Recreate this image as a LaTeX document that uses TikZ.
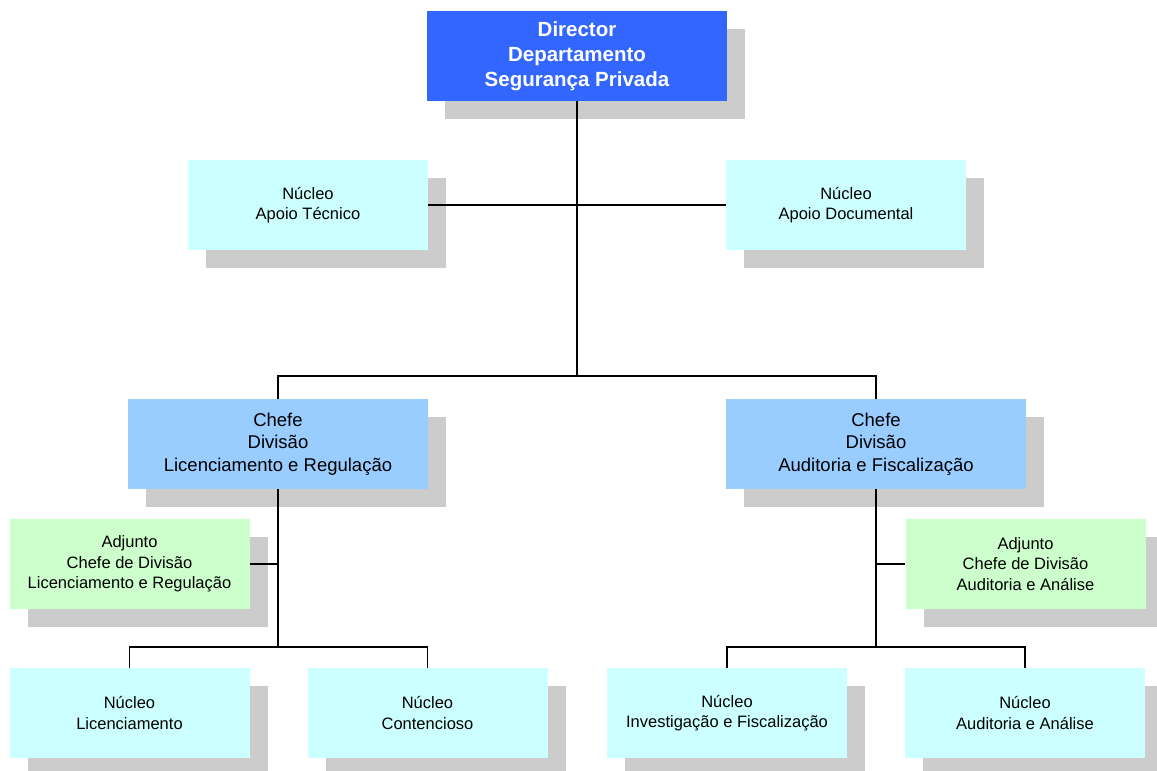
\documentclass[tikz,border=0pt]{standalone}
\usepackage{fontspec}
\setmainfont{Liberation Sans}
\usetikzlibrary{shadows}

\definecolor{dirblue}{HTML}{3366FF}
\definecolor{chefeblue}{HTML}{99CCFF}
\definecolor{nucleocyan}{HTML}{CCFFFF}
\definecolor{adjgreen}{HTML}{CCFFCC}
\definecolor{boxshadow}{HTML}{CCCCCC}

\tikzset{
  box/.style={rectangle, align=center, inner sep=2pt,
    drop shadow={shadow xshift=18pt, shadow yshift=-18pt, fill=boxshadow, opacity=1}},
  dirbox/.style={box, fill=dirblue, text=white, minimum width=300pt, minimum height=90pt,
    font=\fontsize{20.5}{25}\selectfont\bfseries},
  chefebox/.style={box, fill=chefeblue, minimum width=300pt, minimum height=90pt,
    font=\fontsize{18.5}{22.5}\selectfont},
  nucleobox/.style={box, fill=nucleocyan, minimum width=240pt, minimum height=90pt,
    font=\fontsize{16.5}{20.5}\selectfont},
  adjbox/.style={box, fill=adjgreen, minimum width=240pt, minimum height=90pt,
    font=\fontsize{16.5}{20.5}\selectfont},
  link/.style={draw=black, line width=1.3pt}
}

\begin{document}
\begin{tikzpicture}[x=1pt, y=-1pt]
  \useasboundingbox (0,0) rectangle (1157,771);

  % direccao
  \node[dirbox] (dir) at (577,56) {Director\\Departamento\\Segurança Privada};
  \node[nucleobox] (tecnico) at (308,205) {Núcleo\\Apoio Técnico};
  \node[nucleobox] (documental) at (846,205) {Núcleo\\Apoio Documental};

  % divisoes
  \node[chefebox] (chefeL) at (278,444) {Chefe\\Divisão\\Licenciamento e Regulação};
  \node[chefebox] (chefeR) at (876,444) {Chefe\\Divisão\\Auditoria e Fiscalização};
  \node[adjbox] (adjL) at (129.5,564) {Adjunto\\Chefe de Divisão\\Licenciamento e Regulação};
  \node[adjbox] (adjR) at (1025.5,564) {Adjunto\\Chefe de Divisão\\Auditoria e Análise};

  % nucleos
  \node[nucleobox] (lic) at (129.5,713) {Núcleo\\Licenciamento};
  \node[nucleobox] (cont) at (427.5,713) {Núcleo\\Contencioso};
  \node[nucleobox] (inv) at (727,713) {Núcleo\\Investigação e Fiscalização};
  \node[nucleobox] (aud) at (1025,713) {Núcleo\\Auditoria e Análise};

  \coordinate (bus) at (577,376);
  \coordinate (busL) at (278,647);
  \coordinate (busR) at (876,647);

  \draw[link] (dir.south) -- (bus);
  \draw[link] (tecnico.east) -- (documental.west);
  \draw[link] (chefeL.north) |- (bus) -| (chefeR.north);

  \draw[link] (chefeL.south) -- (busL);
  \draw[link] (adjL.east) -- (adjL.east -| busL);
  \draw[link] (lic.north) |- (busL) -| (cont.north);

  \draw[link] (chefeR.south) -- (busR);
  \draw[link] (adjR.west) -- (adjR.west -| busR);
  \draw[link] (inv.north) |- (busR) -| (aud.north);
\end{tikzpicture}
\end{document}
